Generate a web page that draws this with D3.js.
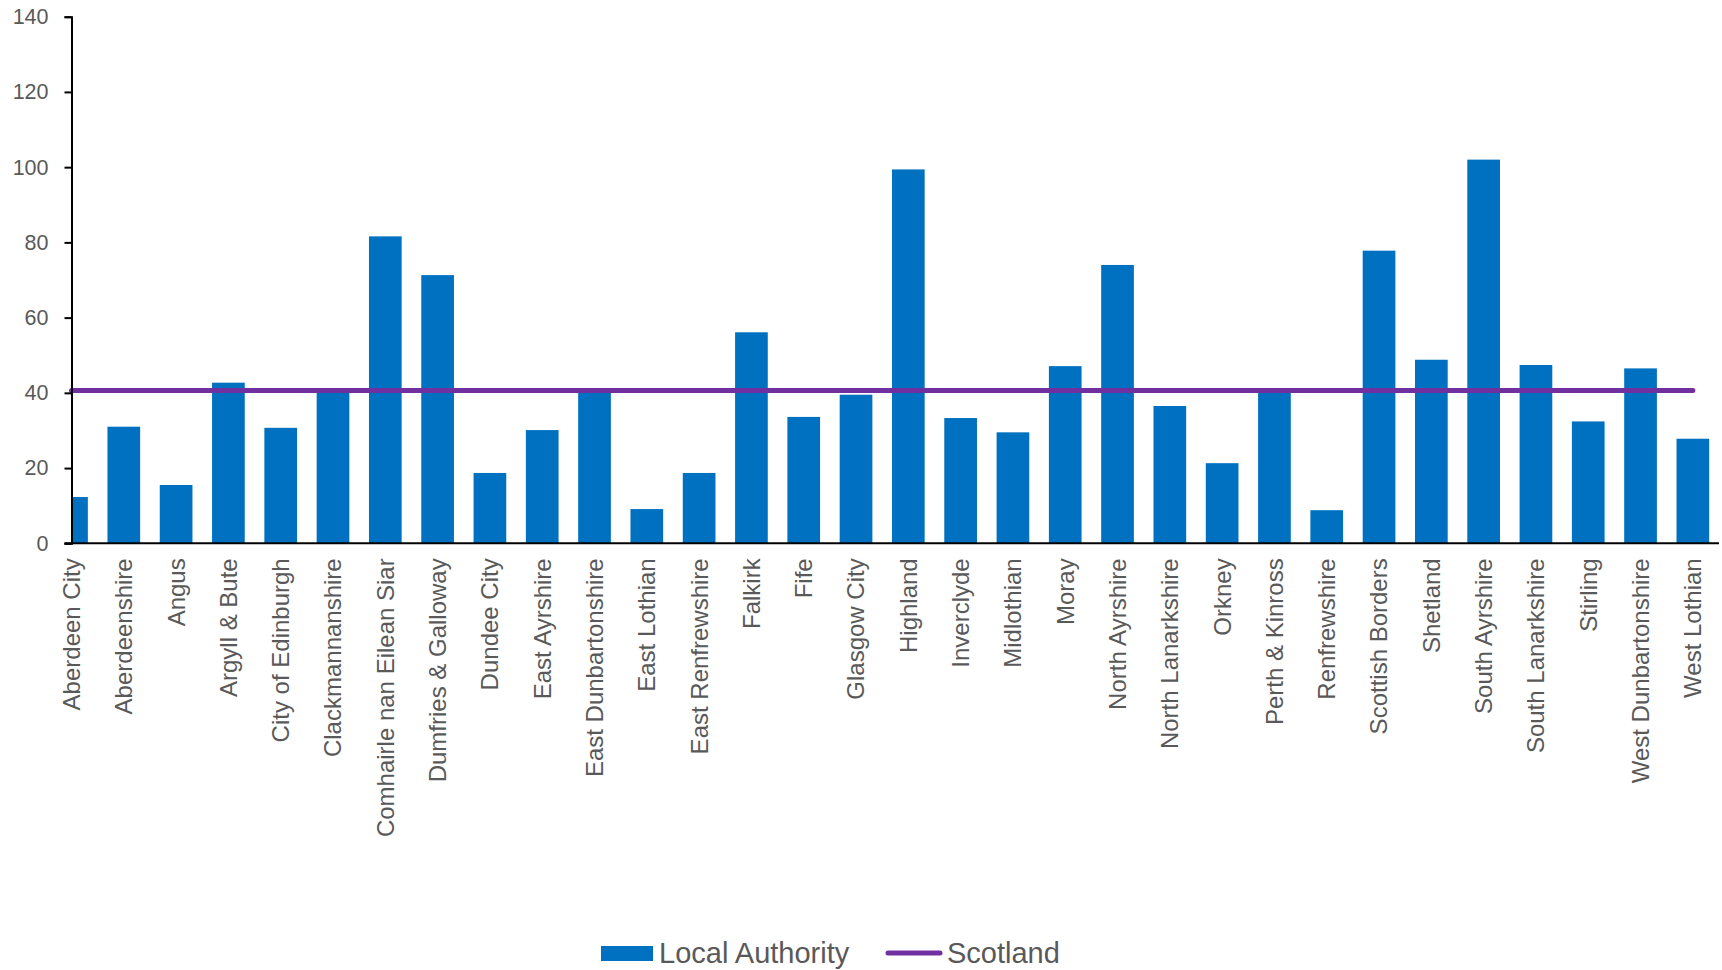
<!DOCTYPE html>
<html>
<head>
<meta charset="utf-8">
<script src="https://cdn.jsdelivr.net/npm/d3@7"></script>
<style>
  body { margin: 0; background: #fff; }
  text { font-family: "Liberation Sans", Arial, sans-serif; fill: #595959; }
</style>
</head>
<body>
<div id="chart-area"></div>
<script>
// local authority names (x categories)
var authorities = [
	"Aberdeen City", "Aberdeenshire", "Angus", "Argyll & Bute", "City of Edinburgh",
	"Clackmannanshire", "Comhairle nan Eilean Siar", "Dumfries & Galloway", "Dundee City",
	"East Ayrshire", "East Dunbartonshire", "East Lothian", "East Renfrewshire", "Falkirk",
	"Fife", "Glasgow City", "Highland", "Inverclyde", "Midlothian", "Moray", "North Ayrshire",
	"North Lanarkshire", "Orkney", "Perth & Kinross", "Renfrewshire", "Scottish Borders",
	"Shetland", "South Ayrshire", "South Lanarkshire", "Stirling", "West Dunbartonshire",
	"West Lothian"
];

// bar values
var localValues = [
	12.3, 31.0, 15.5, 42.7, 30.7,
	40.2, 81.6, 71.3, 18.7,
	30.1, 40.3, 9.1, 18.7, 56.1,
	33.6, 39.5, 99.4, 33.3, 29.5, 47.1, 74.0,
	36.5, 21.3, 40.4, 8.8, 77.8,
	48.8, 102.0, 47.4, 32.4, 46.5,
	27.8
];

// Scotland average (flat line)
var scotlandValue = 40.6;

var yTicks = [0, 20, 40, 60, 80, 100, 120, 140];
var seriesNames = ["Local Authority", "Scotland"];

var barColour = "#0070C0";
var lineColour = "#7030A0";

// svg size and plot edges
var svgWidth = 1722;
var svgHeight = 970;
var axisLeft = 71.5;
var axisRight = 1719;
var axisBottom = 543.3;
var axisTop = 16.7;

var svg = d3.select("#chart-area").append("svg")
	.attr("width", svgWidth)
	.attr("height", svgHeight);

// the first category is centred on the y axis, so the band starts half a step to the left
var step = (axisRight - axisLeft) / (authorities.length - 0.5);

var xScale = d3.scaleBand()
	.domain(authorities)
	.range([axisLeft - step / 2, axisRight])
	.paddingInner(0.375)
	.paddingOuter(0.1875);

var yScale = d3.scaleLinear()
	.domain([0, 140])
	.range([axisBottom, axisTop]);

// clip so the first bar is cut at the axis
svg.append("clipPath")
	.attr("id", "plot-clip")
	.append("rect")
	.attr("x", axisLeft)
	.attr("y", 0)
	.attr("width", axisRight - axisLeft)
	.attr("height", axisBottom);

// bars
svg.append("g")
	.attr("clip-path", "url(#plot-clip)")
	.selectAll("rect")
	.data(localValues)
	.enter()
	.append("rect")
	.attr("x", (d, i) => xScale(authorities[i]))
	.attr("y", d => yScale(d))
	.attr("width", xScale.bandwidth())
	.attr("height", d => yScale(0) - yScale(d))
	.attr("fill", barColour);

// Scotland line from first to last category centre
var centre = name => xScale(name) + xScale.bandwidth() / 2;
var lineData = authorities.map(a => ({ name: a, value: scotlandValue }));

svg.append("path")
	.datum(lineData)
	.attr("fill", "none")
	.attr("stroke", lineColour)
	.attr("stroke-width", 5)
	.attr("stroke-linecap", "round")
	.attr("d", d3.line().x(d => centre(d.name)).y(d => yScale(d.value)));

// y axis
var yAxisCall = d3.axisLeft(yScale)
	.tickValues(yTicks)
	.tickSize(7)
	.tickPadding(16);

var yAxis = svg.append("g")
	.attr("class", "y-axis")
	.attr("transform", "translate(" + axisLeft + ",0)")
	.call(yAxisCall);

yAxis.select(".domain").attr("stroke", "#000").attr("stroke-width", 2);
yAxis.selectAll(".tick line").attr("stroke", "#000").attr("stroke-width", 2);
yAxis.selectAll(".tick text")
	.attr("font-size", "21.5px")
	.attr("fill", "#595959");

// x axis baseline
svg.append("line")
	.attr("x1", axisLeft - 7)
	.attr("x2", axisRight)
	.attr("y1", axisBottom)
	.attr("y2", axisBottom)
	.attr("stroke", "#000")
	.attr("stroke-width", 2);

// category labels, rotated
svg.append("g")
	.attr("class", "x-labels")
	.selectAll("text")
	.data(authorities)
	.enter()
	.append("text")
	.attr("transform", d => "translate(" + centre(d) + "," + (axisBottom + 15) + ") rotate(-90)")
	.attr("dy", "0.35em")
	.attr("text-anchor", "end")
	.attr("font-size", "24px")
	.text(d => d);

// legend
var legend = svg.append("g").attr("class", "legend");

legend.append("rect")
	.attr("x", 601)
	.attr("y", 946)
	.attr("width", 52)
	.attr("height", 15)
	.attr("fill", barColour);

legend.append("text")
	.attr("x", 659)
	.attr("y", 963)
	.attr("font-size", "29px")
	.text(seriesNames[0]);

legend.append("line")
	.attr("x1", 888)
	.attr("x2", 940)
	.attr("y1", 953)
	.attr("y2", 953)
	.attr("stroke", lineColour)
	.attr("stroke-width", 5)
	.attr("stroke-linecap", "round");

legend.append("text")
	.attr("x", 947)
	.attr("y", 963)
	.attr("font-size", "29px")
	.text(seriesNames[1]);
</script>
</body>
</html>
